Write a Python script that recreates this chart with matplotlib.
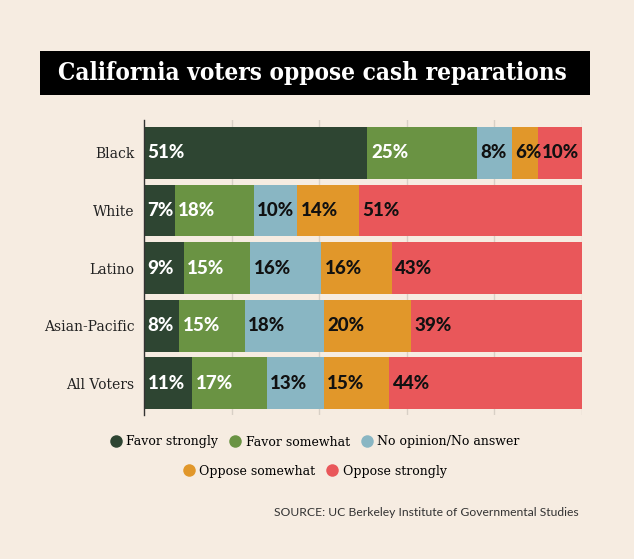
import matplotlib as mpl
from matplotlib import pyplot as plt
from matplotlib.lines import Line2D
import numpy as np

# chart data
groups = ['Black', 'White', 'Latino', 'Asian-Pacific', 'All Voters']
answers = ['Favor strongly', 'Favor somewhat', 'No opinion/No answer',
           'Oppose somewhat', 'Oppose strongly']
favor_strongly = [51, 7, 9, 8, 11]
favor_somewhat = [25, 18, 15, 15, 17]
no_opinion = [8, 10, 16, 18, 13]
oppose_somewhat = [6, 14, 16, 20, 15]
oppose_strongly = [10, 51, 43, 39, 44]

colors = ['#2e4532', '#6a9343', '#89b6c3', '#e1972a', '#e9575a']
label_colors = ['white', 'white', '#111111', '#111111', '#111111']
bg = '#f6ece1'

series = np.array([favor_strongly, favor_somewhat, no_opinion,
                   oppose_somewhat, oppose_strongly], dtype=float)
totals = series.sum(axis=0)
shares = series / totals * 100  # bars fill the full width

fig = plt.figure(figsize=(6.34, 5.59), dpi=100, facecolor=bg)
ax = fig.add_axes([144 / 634, 1 - 415 / 559, 438 / 634, 295 / 559])
ax.set_facecolor(bg)

y = np.arange(len(groups))
left = np.zeros(len(groups))
for i in range(len(answers)):
    ax.barh(y, shares[i], left=left, height=0.9, color=colors[i],
            edgecolor='none', zorder=2, label=answers[i])
    for j in range(len(groups)):
        ax.text(left[j] + 0.8, y[j], f'{int(series[i][j])}%',
                ha='left', va='center', color=label_colors[i],
                fontsize=13.5, fontweight='black', family='Lato',
                zorder=3)
    left += shares[i]

ax.set_xlim(0, 100)
ax.set_ylim(4.55, -0.57)
ax.set_xticks([20, 40, 60, 80, 100])
ax.xaxis.grid(True, color='#d8d0c6', linewidth=1, zorder=0)
ax.set_axisbelow(True)
ax.tick_params(axis='x', length=0, labelbottom=False)
ax.set_yticks(y)
ax.set_yticklabels(groups, family='DejaVu Serif', fontsize=10, color='#222222')
ax.tick_params(axis='y', length=0, pad=7)
for s in ['top', 'right', 'bottom']:
    ax.spines[s].set_visible(False)
ax.spines['left'].set_color('#333333')
ax.spines['left'].set_linewidth(1)

# title box
fig.patches.append(mpl.patches.Rectangle((40 / 634, 1 - 95 / 559), 550 / 634, 44 / 559,
                                         transform=fig.transFigure, facecolor='black',
                                         edgecolor='none'))
fig.text(312 / 634, 1 - 73 / 559, 'California voters oppose cash reparations',
         ha='center', va='center', color='white', fontsize=17.5, fontweight='bold',
         family='DejaVu Serif', fontstretch='condensed')

# legend in two centered rows
handles = [Line2D([], [], marker='o', linestyle='none', markersize=9,
                  markerfacecolor=c, markeredgecolor='none') for c in colors]
fig.legend(handles[:3], answers[:3], loc='center', bbox_to_anchor=(313 / 634, 1 - 442 / 559),
           ncol=3, frameon=False, handletextpad=0.1, columnspacing=0.6,
           handlelength=1.5, prop={'family': 'DejaVu Serif', 'size': 9})
fig.legend(handles[3:], answers[3:], loc='center', bbox_to_anchor=(313 / 634, 1 - 471 / 559),
           ncol=2, frameon=False, handletextpad=0.1, columnspacing=0.6,
           handlelength=1.5, prop={'family': 'DejaVu Serif', 'size': 9})

fig.text(579 / 634, 1 - 512 / 559, 'SOURCE: UC Berkeley Institute of Governmental Studies',
         ha='right', va='center', fontsize=8.7, color='#333333', family='Lato')

fig.savefig('out.png', dpi=100, facecolor=bg)
